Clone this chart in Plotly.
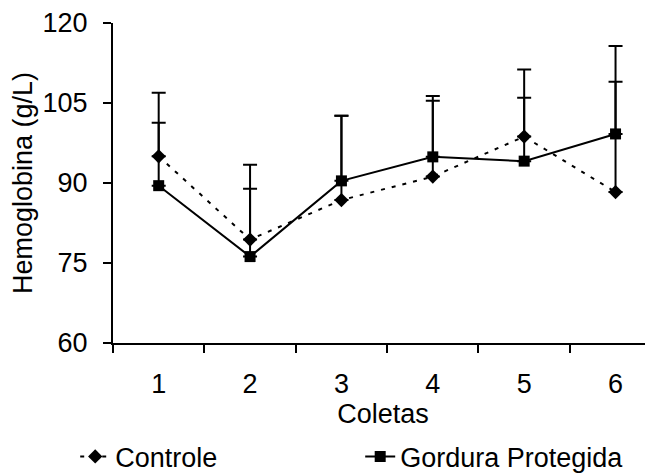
import plotly.graph_objects as go

coletas = ["1", "2", "3", "4", "5", "6"]
controle = [95.0, 79.4, 86.8, 91.2, 98.7, 88.3]
controle_err = [6.3, 9.5, 15.8, 14.2, 7.3, 20.7]
gordura = [89.5, 76.2, 90.4, 94.9, 94.1, 99.2]
gordura_err = [17.4, 17.2, 12.2, 11.4, 17.2, 16.5]
y_ticks = [60, 75, 90, 105, 120]

FONT = "Liberation Sans, Arial, sans-serif"
FS = 27

fig = go.Figure()
fig.add_trace(go.Scatter(
    x=coletas, y=controle, name="Controle", mode="lines+markers",
    line=dict(color="black", width=2, dash="4px,7px"),
    marker=dict(symbol="diamond", size=11, color="black"),
    error_y=dict(type="data", array=controle_err, arrayminus=[0]*6, symmetric=False,
                 color="black", thickness=2, width=7),
))
fig.add_trace(go.Scatter(
    x=coletas, y=gordura, name="Gordura Protegida", mode="lines+markers",
    line=dict(color="black", width=2),
    marker=dict(symbol="square", size=11, color="black"),
    error_y=dict(type="data", array=gordura_err, arrayminus=[0]*6, symmetric=False,
                 color="black", thickness=2, width=7),
))

fig.update_layout(
    width=645, height=466,
    margin=dict(l=105, r=0, t=15, b=131, autoexpand=False),
    paper_bgcolor="white", plot_bgcolor="white",
    font=dict(family=FONT, size=FS, color="black"),
    showlegend=True,
    legend=dict(orientation="h", xref="paper", yref="paper",
                x=-0.07, y=-0.356, xanchor="left", yanchor="middle",
                font=dict(size=FS), entrywidth=240, bgcolor="rgba(0,0,0,0)"),
)
fig.update_xaxes(
    type="category", range=[-0.5, 5.41], automargin=False,
    showline=True, linecolor="black", linewidth=2,
    ticks="outside", tickson="boundaries", ticklen=8, tickcolor="black", tickwidth=2,
    showgrid=False, zeroline=False, ticklabelstandoff=16,
    title=dict(text="Coletas", standoff=6, font=dict(size=FS)),
)
fig.update_yaxes(
    range=[60, 120], tickvals=y_ticks, automargin=False,
    showline=True, linecolor="black", linewidth=2,
    ticks="outside", ticklen=8, tickcolor="black", tickwidth=2,
    showgrid=False, zeroline=False, ticklabelstandoff=10,
    title=dict(text="Hemoglobina (g/L)", standoff=4, font=dict(size=FS)),
)

fig.write_html("out.html")
